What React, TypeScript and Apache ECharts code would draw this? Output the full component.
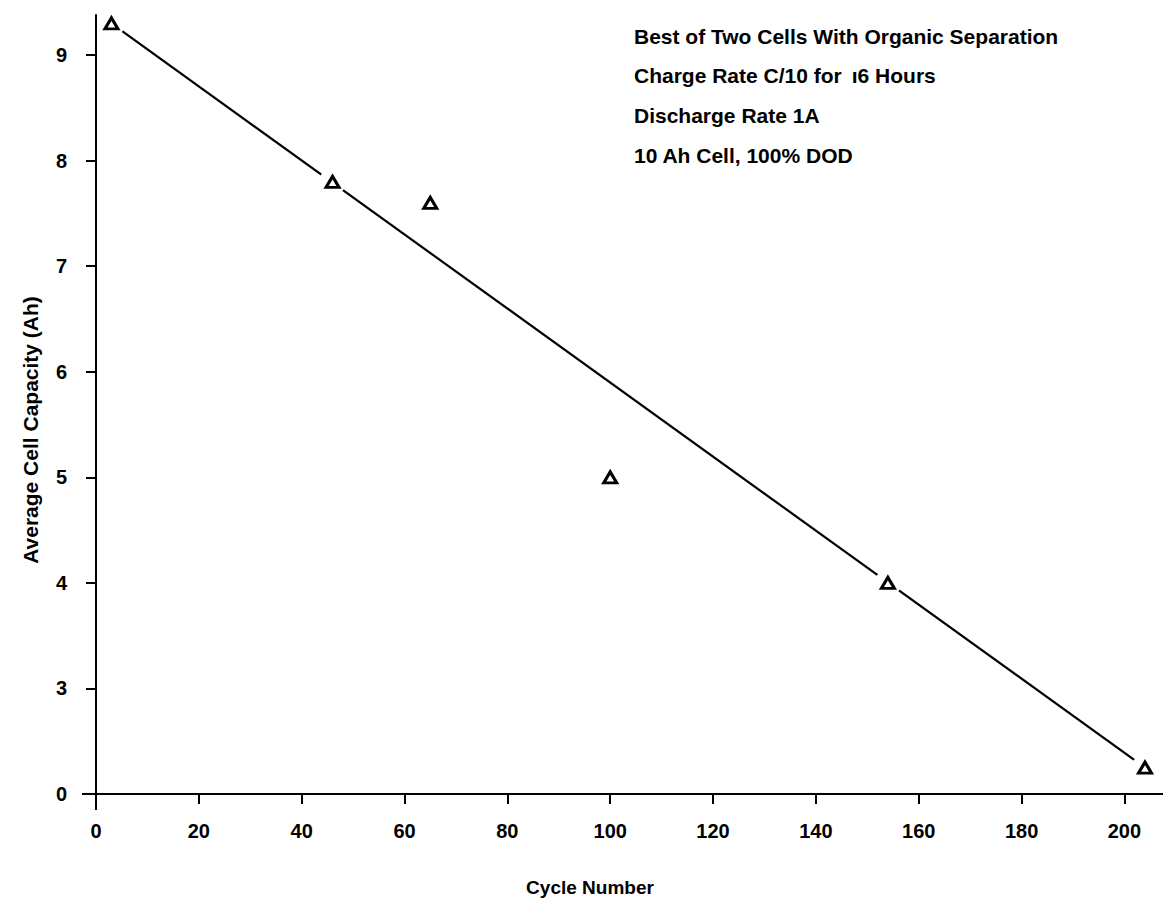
import React, { useEffect, useRef } from "react";
import * as echarts from "echarts";

// Measured data (cycle number vs. average cell capacity, Ah)
const cycles = [3, 46, 65, 100, 154, 204];
const capacity = [9.3, 7.8, 7.6, 5.0, 4.0, 0.25];

// Straight fitted line drawn through the data
const fitCycles = [3, 204];
const fitCapacity = [9.3, 0.25];

// Tick values
const xTicks = [0, 20, 40, 60, 80, 100, 120, 140, 160, 180, 200];
const yTicks = [0, 3, 4, 5, 6, 7, 8, 9];

const annotationLines = [
  "Best of Two Cells With Organic Separation",
  "Charge Rate C/10 for \u2009\u01316 Hours",
  "Discharge Rate 1A",
  "10 Ah Cell, 100% DOD",
];

const xTitle = "Cycle Number";
const yTitle = "Average Cell Capacity (Ah)";

// The y axis is broken between 0 and 3: the 0..3 stretch takes one tick step.
// Values below the break are shifted up by 2 so that 0 sits where 2 would be.
const BREAK_AT = 3;
const BREAK_SHIFT = 2;
const toAxis = (v: number) => (v < BREAK_AT ? v + BREAK_SHIFT : v);
const fromAxis = (a: number) => (a < BREAK_AT ? a - BREAK_SHIFT : a);

const FONT = '"Liberation Sans", Arial, Helvetica, sans-serif';

export default function App() {
  const ref = useRef<HTMLDivElement>(null);

  useEffect(() => {
    if (!ref.current) return;
    const chart = echarts.init(ref.current, undefined, { renderer: "svg" });

    const points = cycles.map((c, i) => [c, toAxis(capacity[i])]);
    const fit = fitCycles.map((c, i) => [c, toAxis(fitCapacity[i])]);
    const yAxisTicks = yTicks.map(toAxis);

    chart.setOption({
      animation: false,
      backgroundColor: "#ffffff",
      grid: { left: 96, right: 0, top: 15, bottom: 110, containLabel: false },
      xAxis: {
        type: "value",
        min: 0,
        max: 207.5,
        splitLine: { show: false },
        axisLine: { show: true, onZero: false, lineStyle: { color: "#000", width: 2 } },
        axisTick: {
          show: true,
          inside: false,
          length: 10,
          customValues: xTicks,
          lineStyle: { color: "#000", width: 2 },
        },
        axisLabel: {
          customValues: xTicks,
          margin: 27,
          color: "#000",
          fontFamily: FONT,
          fontWeight: "bold",
          fontSize: 20,
        },
      },
      yAxis: {
        type: "value",
        min: 2,
        max: 9.38,
        splitLine: { show: false },
        axisLine: { show: true, onZero: false, lineStyle: { color: "#000", width: 2 } },
        axisTick: {
          show: true,
          inside: false,
          length: 10,
          customValues: yAxisTicks,
          lineStyle: { color: "#000", width: 2 },
        },
        axisLabel: {
          customValues: yAxisTicks,
          margin: 29,
          color: "#000",
          fontFamily: FONT,
          fontWeight: "bold",
          fontSize: 20,
          formatter: (v: number) => String(Math.round(fromAxis(v))),
        },
      },
      series: [
        {
          type: "line",
          data: fit,
          symbol: "none",
          silent: true,
          z: 2,
          lineStyle: { color: "#000", width: 2.2 },
        },
        {
          type: "scatter",
          data: points,
          symbol: "circle",
          symbolSize: 27,
          silent: true,
          z: 3,
          itemStyle: { color: "#ffffff", opacity: 1 },
        },
        {
          type: "scatter",
          data: points,
          symbol: "triangle",
          symbolSize: [13, 11],
          silent: true,
          z: 4,
          itemStyle: { color: "#ffffff", borderColor: "#000", borderWidth: 3, opacity: 1 },
        },
      ],
      graphic: [
        // small overhangs of the axes past their crossing
        {
          type: "line",
          shape: { x1: 82, y1: 794, x2: 96, y2: 794 },
          style: { stroke: "#000", lineWidth: 2 },
        },
        {
          type: "line",
          shape: { x1: 96, y1: 794, x2: 96, y2: 810 },
          style: { stroke: "#000", lineWidth: 2 },
        },
        {
          type: "text",
          x: 30,
          y: 430,
          rotation: Math.PI / 2,
          style: {
            text: yTitle,
            fill: "#000",
            font: `bold 21px ${FONT}`,
            align: "center",
            verticalAlign: "middle",
          },
        },
        {
          type: "text",
          x: 590,
          y: 887,
          style: {
            text: xTitle,
            fill: "#000",
            font: `bold 19px ${FONT}`,
            align: "center",
            verticalAlign: "middle",
          },
        },
        ...annotationLines.map((t, i) => ({
          type: "text",
          x: 634,
          y: 36 + i * 39.7,
          style: {
            text: t,
            fill: "#000",
            font: `bold 21px ${FONT}`,
            align: "left",
            verticalAlign: "middle",
          },
        })),
      ],
    });

    return () => chart.dispose();
  }, []);

  return (
    <div
      ref={ref}
      style={{ position: "absolute", left: 0, top: 0, width: 1163, height: 904, background: "#fff" }}
    />
  );
}
